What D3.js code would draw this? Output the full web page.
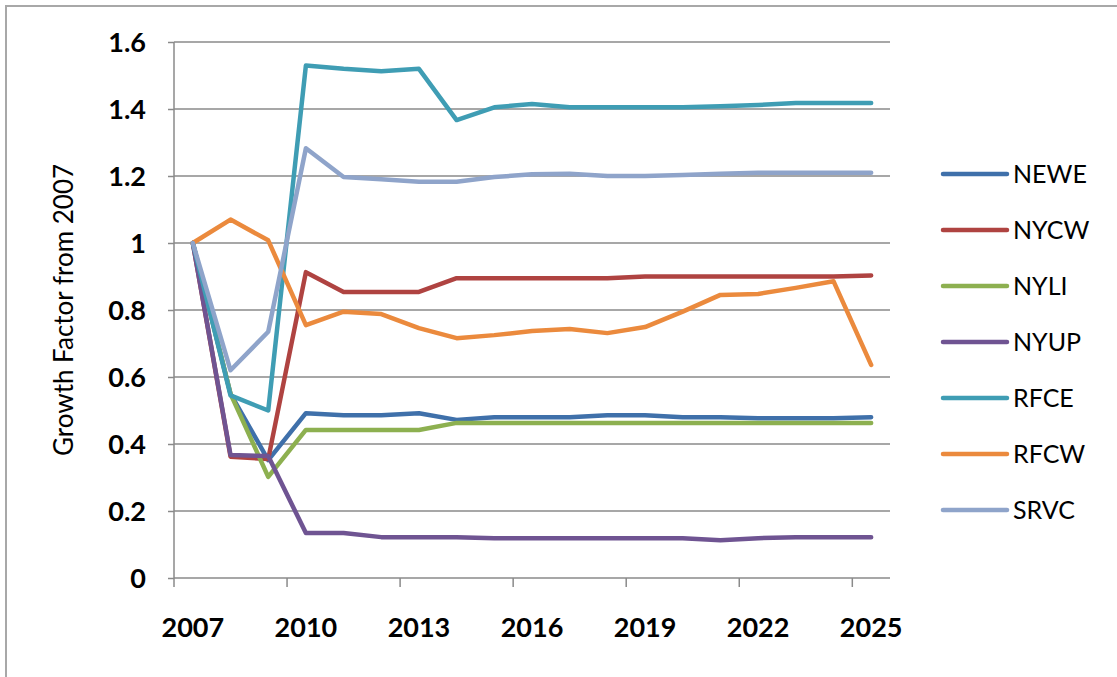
<!DOCTYPE html>
<html>
<head>
<meta charset="utf-8">
<script src="https://cdn.jsdelivr.net/npm/d3@7"></script>
<style>
  html, body { margin: 0; padding: 0; background: #fff; }
  svg { display: block; }
</style>
</head>
<body>
<svg id="chart" width="1117" height="677"></svg>
<script>
const years = ["2007","2008","2009","2010","2011","2012","2013","2014","2015","2016","2017","2018","2019","2020","2021","2022","2023","2024","2025"];
const xTickLabels = ["2007","2010","2013","2016","2019","2022","2025"];
const yTicks = [0, 0.2, 0.4, 0.6, 0.8, 1, 1.2, 1.4, 1.6];
const seriesNames = ["NEWE","NYCW","NYLI","NYUP","RFCE","RFCW","SRVC"];
const seriesColors = ["#3F70AA","#AF4341","#8DB050","#6F5492","#3F9DB4","#EB8A3D","#8FA4CA"];

const NEWE = [1.0, 0.55, 0.352, 0.492, 0.486, 0.486, 0.492, 0.472, 0.48, 0.48, 0.48, 0.486, 0.486, 0.48, 0.48, 0.477, 0.477, 0.477, 0.48];
const NYCW = [1.0, 0.362, 0.355, 0.913, 0.854, 0.854, 0.854, 0.895, 0.895, 0.895, 0.895, 0.895, 0.9, 0.9, 0.9, 0.9, 0.9, 0.9, 0.903];
const NYLI = [1.0, 0.55, 0.302, 0.442, 0.442, 0.442, 0.442, 0.463, 0.463, 0.463, 0.463, 0.463, 0.463, 0.463, 0.463, 0.463, 0.463, 0.463, 0.463];
const NYUP = [1.0, 0.367, 0.364, 0.134, 0.134, 0.122, 0.122, 0.122, 0.119, 0.119, 0.119, 0.119, 0.119, 0.119, 0.113, 0.119, 0.122, 0.122, 0.122];
const RFCE = [1.0, 0.545, 0.50, 1.53, 1.52, 1.513, 1.52, 1.367, 1.405, 1.415, 1.405, 1.405, 1.405, 1.405, 1.408, 1.412, 1.418, 1.418, 1.418];
const RFCW = [1.0, 1.07, 1.008, 0.755, 0.795, 0.788, 0.746, 0.716, 0.725, 0.737, 0.743, 0.731, 0.749, 0.795, 0.845, 0.848, 0.866, 0.886, 0.636];
const SRVC = [1.0, 0.62, 0.735, 1.283, 1.197, 1.19, 1.183, 1.183, 1.197, 1.205, 1.207, 1.2, 1.2, 1.203, 1.207, 1.21, 1.21, 1.21, 1.21];

const seriesValues = [NEWE, NYCW, NYLI, NYUP, RFCE, RFCW, SRVC];

const svg = d3.select("#chart");

// outer frame (clipped at right/bottom like the reference)
svg.append("rect")
  .attr("x", 6).attr("y", 6)
  .attr("width", 1140).attr("height", 700)
  .attr("fill", "#fff").attr("stroke", "#a8a8a8").attr("stroke-width", 2);

const plot = { left: 174, right: 890, top: 42, bottom: 578 };

const x = d3.scaleBand().domain(years).range([plot.left, plot.right]).padding(0);
const y = d3.scaleLinear().domain([0, 1.6]).range([plot.bottom, plot.top]);
const cx = d => x(d) + x.bandwidth() / 2;

const gridColor = "#8a8a8a";

// gridlines
svg.append("g").selectAll("line")
  .data(yTicks.filter(t => t > 0))
  .join("line")
  .attr("x1", plot.left).attr("x2", plot.right)
  .attr("y1", d => y(d)).attr("y2", d => y(d))
  .attr("stroke", gridColor).attr("stroke-width", 1.5);

// y axis
const yAxis = d3.axisLeft(y).tickValues(yTicks).tickSize(6).tickFormat(d => d3.format("")(+d.toFixed(1)));
const gy = svg.append("g").attr("transform", `translate(${plot.left},0)`).call(yAxis);
gy.select(".domain").attr("stroke", gridColor).attr("stroke-width", 1.5).attr("d", `M0,${plot.top}V${plot.bottom}`);
gy.selectAll(".tick line").attr("stroke", gridColor).attr("stroke-width", 1.5);
gy.selectAll(".tick text")
  .attr("x", -28)
  .attr("dy", "0.35em")
  .style("font-family", "Lato, 'Open Sans', sans-serif")
  .style("font-weight", "bold")
  .style("font-size", "27px")
  .attr("fill", "#000");

// x axis baseline
svg.append("line")
  .attr("x1", plot.left).attr("x2", plot.right)
  .attr("y1", plot.bottom).attr("y2", plot.bottom)
  .attr("stroke", gridColor).attr("stroke-width", 1.5);

// x tick marks (between categories, every 3)
svg.append("g").selectAll("line")
  .data(xTickLabels)
  .join("line")
  .attr("x1", d => x(d)).attr("x2", d => x(d))
  .attr("y1", plot.bottom).attr("y2", plot.bottom + 9)
  .attr("stroke", gridColor).attr("stroke-width", 1.5);

// x labels
svg.append("g").selectAll("text")
  .data(xTickLabels)
  .join("text")
  .attr("x", d => cx(d))
  .attr("y", 637)
  .attr("text-anchor", "middle")
  .style("font-family", "Lato, 'Open Sans', sans-serif")
  .style("font-weight", "bold")
  .style("font-size", "27px")
  .attr("fill", "#000")
  .text(d => d);

// y title
svg.append("text")
  .attr("transform", `translate(73,${(plot.top + plot.bottom) / 2}) rotate(-90)`)
  .attr("text-anchor", "middle")
  .style("font-family", "Lato, 'Open Sans', sans-serif")
  .style("font-size", "26px")
  .attr("fill", "#000")
  .text("Growth Factor from 2007");

// lines
const line = d3.line()
  .x((d, i) => cx(years[i]))
  .y(d => y(d));

svg.append("g").selectAll("path")
  .data(seriesValues)
  .join("path")
  .attr("d", d => line(d))
  .attr("fill", "none")
  .attr("stroke", (d, i) => seriesColors[i])
  .attr("stroke-width", 4.5)
  .attr("stroke-linejoin", "round")
  .attr("stroke-linecap", "round");

// legend
const legend = svg.append("g").selectAll("g")
  .data(seriesNames)
  .join("g")
  .attr("transform", (d, i) => `translate(943,${174 + i * 56})`);
legend.append("line")
  .attr("x1", 0).attr("x2", 64)
  .attr("y1", 0).attr("y2", 0)
  .attr("stroke", (d, i) => seriesColors[i])
  .attr("stroke-width", 4.5)
  .attr("stroke-linecap", "round");
legend.append("text")
  .attr("x", 70).attr("y", 0)
  .attr("dy", "0.36em")
  .style("font-family", "Lato, 'Open Sans', sans-serif")
  .style("font-size", "25px")
  .attr("fill", "#000")
  .text(d => d);
</script>
</body>
</html>
